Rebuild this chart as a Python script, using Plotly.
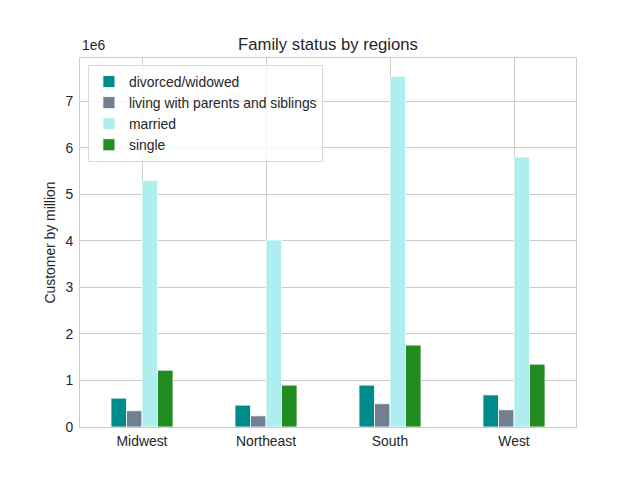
import plotly.graph_objects as go

regions = ["Midwest", "Northeast", "South", "West"]
divorced_widowed = [0.62e6, 0.47e6, 0.90e6, 0.69e6]
living_with_parents = [0.35e6, 0.24e6, 0.50e6, 0.37e6]
married = [5.30e6, 4.02e6, 7.54e6, 5.80e6]
single = [1.22e6, 0.90e6, 1.76e6, 1.35e6]

series = [
    ("divorced/widowed", divorced_widowed, "#008B8B"),
    ("living with parents and siblings", living_with_parents, "#708090"),
    ("married", married, "#AFEEEE"),
    ("single", single, "#228B22"),
]
y_ticks = [0, 1, 2, 3, 4, 5, 6, 7]

FONT = "Liberation Sans, Arial, sans-serif"
FS = 13.9

fig = go.Figure()
for name, vals, col in series:
    fig.add_trace(go.Bar(
        x=regions, y=vals, name=name,
        marker=dict(color=col, line=dict(color="white", width=0.8)),
    ))

fig.update_layout(
    width=640, height=480,
    margin=dict(l=72, r=72, t=50, b=61, autoexpand=False),
    paper_bgcolor="white", plot_bgcolor="white",
    barmode="group", bargap=0.5, bargroupgap=0,
    font=dict(family=FONT, size=FS, color="#262626"),
    title=dict(text="Family status by regions", x=(72 + 568) / 2 / 640, xanchor="center",
               y=1 - 36 / 480, yanchor="middle", font=dict(size=16.7, color="#262626")),
    showlegend=True,
    legend=dict(x=0.016, y=0.981, xanchor="left", yanchor="top",
                bgcolor="rgba(255,255,255,0.8)", bordercolor="#d9d9d9", borderwidth=1,
                font=dict(size=FS, color="#262626"), tracegroupgap=0),
)
fig.update_xaxes(
    automargin=False,
    showline=True, mirror=True, linecolor="#cccccc", linewidth=1,
    showgrid=True, gridcolor="#cccccc", gridwidth=1,
    ticks="", ticklabelstandoff=1, tickfont=dict(size=FS, color="#262626"),
)
fig.update_yaxes(
    automargin=False,
    range=[0, 7.93e6],
    tickvals=[v * 1e6 for v in y_ticks], ticktext=[str(v) for v in y_ticks],
    showline=True, mirror=True, linecolor="#cccccc", linewidth=1,
    showgrid=True, gridcolor="#cccccc", gridwidth=1, zeroline=False,
    ticks="", ticklabelstandoff=3, tickfont=dict(size=FS, color="#262626"),
    title=dict(text="Customer by million", font=dict(size=FS, color="#262626"), standoff=6),
)
fig.add_annotation(text="1e6", xref="paper", yref="paper", x=0, y=1, xanchor="left",
                   yanchor="bottom", yshift=3, showarrow=False,
                   font=dict(size=FS, color="#262626"))

fig.write_html("out.html")
